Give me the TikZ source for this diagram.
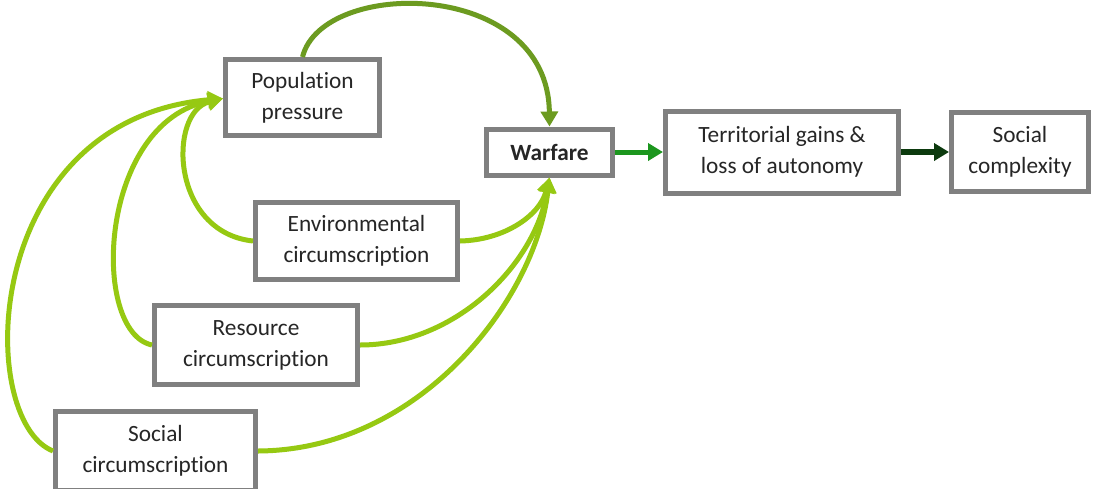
\documentclass[tikz,border=0pt]{standalone}
\usepackage{fontspec}
\setmainfont{Carlito}[Ligatures=NoCommon]
\usetikzlibrary{arrows.meta}
\definecolor{boxgray}{RGB}{128,128,128}
\definecolor{lime}{RGB}{150,201,18}
\definecolor{olive}{RGB}{108,155,32}
\definecolor{fwdgreen}{RGB}{28,150,30}
\definecolor{deepgreen}{RGB}{12,58,14}
\tikzset{
  box/.style={draw=boxgray, line width=5pt, fill=white, align=center,
    inner sep=0pt, font=\fontsize{23.3}{31}\selectfont, text=black!85},
  link/.style={line width=5pt, -{Triangle[length=15pt,width=17pt]}},
}
\begin{document}
\begin{tikzpicture}[x=1pt,y=-1pt]
\useasboundingbox (0,0) rectangle (1094,488);
\fill[white] (0,0) rectangle (1094,488);

% factor boxes
\node[box, minimum width=154pt, minimum height=76pt] (pop) at (302.5,97.5) {Population\\pressure};
\node[box, minimum width=202pt, minimum height=77pt] (env) at (356.5,241) {Environmental\\circumscription};
\node[box, minimum width=203pt, minimum height=79pt] (res) at (256,345) {Resource\\circumscription};
\node[box, minimum width=200pt, minimum height=79pt] (soc) at (155.5,451) {Social\\circumscription};

% outcome chain
\node[box, minimum width=126pt, minimum height=46pt, font=\fontsize{23.3}{31}\selectfont\bfseries] (war) at (549.5,152) {Warfare};
\node[box, minimum width=233pt, minimum height=82pt] (ter) at (782,152) {Territorial gains \&\\loss of autonomy};
\node[box, minimum width=137pt, minimum height=79pt] (cpx) at (1020,152) {Social\\complexity};

% circumscription feeding population pressure
\draw[link, lime] (env.west) .. controls (170,232) and (168,112) .. ([yshift=-1pt]pop.west);
\draw[link, lime] (res.west) .. controls (90,332) and (98,122) .. ([yshift=-1pt]pop.west);
\draw[link, lime] (soc.west) .. controls (-25,420) and (-20,120) .. ([yshift=-1pt]pop.west);

% circumscription feeding warfare
\draw[link, lime] (env.east) .. controls (505,240) and (540,215) .. (war.south);
\draw[link, lime] (res.east) .. controls (455,345) and (535,265) .. (war.south);
\draw[link, lime] (soc.east) .. controls (420,450) and (535,300) .. (war.south);

% population pressure to warfare
\draw[link, olive] (pop.north) .. controls (322,-22) and (548,-22) .. (war.north);

% chain
\draw[link, fwdgreen] (war.east) -- (ter.west);
\draw[link, deepgreen, line width=6pt] (ter.east) -- (cpx.west);
\end{tikzpicture}
\end{document}
